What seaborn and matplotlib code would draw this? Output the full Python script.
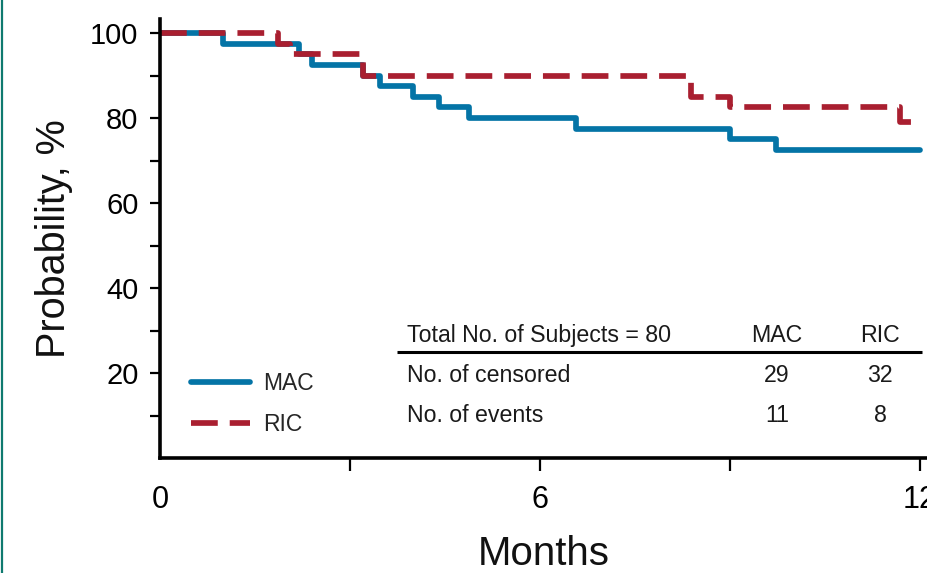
import matplotlib
matplotlib.use("Agg")
import matplotlib.pyplot as plt
from matplotlib.lines import Line2D
import numpy as np
import pandas as pd
import seaborn as sns

# Kaplan-Meier step estimates (months, survival %)
mac_time = [0.0, 1.0, 2.2, 2.4, 3.2, 3.47, 4.0, 4.4, 4.88, 6.57, 9.0, 9.72, 12.0]
mac_surv = [100, 97.5, 95.0, 92.5, 90.0, 87.5, 85.0, 82.5, 80.0, 77.5, 75.0, 72.5, 72.5]
ric_time = [0.0, 1.87, 2.05, 3.2, 8.38, 9.0, 11.68, 12.0]
ric_surv = [100, 97.5, 95.0, 90.0, 85.0, 82.5, 79.0, 79.0]

arms = ["MAC", "RIC"]
colors = {"MAC": "#0474a6", "RIC": "#a91f30"}

# summary table
table_header = "Total No. of Subjects = 80"
row_labels = ["No. of censored", "No. of events"]
censored = {"MAC": 29, "RIC": 32}
events = {"MAC": 11, "RIC": 8}

x_ticks = [0, 3, 6, 9, 12]
x_ticklabels = ["0", "", "6", "", "12"]
y_ticks = [10, 20, 30, 40, 50, 60, 70, 80, 90, 100]
y_ticklabels = ["", "20", "", "40", "", "60", "", "80", "", "100"]

df = pd.concat([
    pd.DataFrame({"time": mac_time, "surv": mac_surv, "arm": "MAC"}),
    pd.DataFrame({"time": ric_time, "surv": ric_surv, "arm": "RIC"}),
], ignore_index=True)

sns.set_theme(style="white")
plt.rcParams["font.family"] = ["Liberation Sans", "DejaVu Sans"]

fig = plt.figure(figsize=(9.27, 5.73), dpi=100)
ax = fig.add_axes([160 / 927, 115 / 573, 767 / 927, 439 / 573])

lw = 4.1
dash = (4.7, 2.1)
sns.lineplot(data=df, x="time", y="surv", hue="arm", style="arm",
             hue_order=arms, style_order=arms, palette=colors,
             dashes={"MAC": "", "RIC": dash},
             drawstyle="steps-post", estimator=None, sort=False,
             linewidth=lw, ax=ax, legend=False)

ax.set_xlim(0, 12.11)
ax.set_ylim(0, 103.3)

for side in ["top", "right"]:
    ax.spines[side].set_visible(False)
for side in ["left", "bottom"]:
    ax.spines[side].set_linewidth(2.6)
    ax.spines[side].set_color("black")

ax.set_xticks(x_ticks, x_ticklabels)
ax.set_yticks(y_ticks, y_ticklabels)
ax.tick_params(axis="y", direction="out", length=7.5, width=1.6, pad=8,
               labelsize=21, colors="black", left=True)
ax.tick_params(axis="x", direction="out", length=9, width=1.6, pad=10.5,
               labelsize=22, colors="black", bottom=True)
ax.xaxis.get_major_ticks()[0].tick1line.set_visible(False)

ax.set_xlabel("Months", fontsize=29, labelpad=14.5, color="#111111")
ax.set_ylabel("Probability, %", fontsize=28.5, labelpad=12, color="#111111")

# legend
handles = [Line2D([0], [0], color=colors["MAC"], lw=lw),
           Line2D([0], [0], color=colors["RIC"], lw=lw, dashes=dash)]
ax.legend(handles, arms, loc="upper left", bbox_to_anchor=(0.04, 0.195),
          frameon=False, fontsize=16.5, handlelength=2.6, handletextpad=0.57,
          labelspacing=0.76, borderaxespad=0, borderpad=0)

# summary table
txt = dict(fontsize=16.7, color="#1a1a1a", va="center")
col_x = {"MAC": 9.74, "RIC": 11.37}
ax.text(3.9, 28.9, table_header, ha="left", **txt)
for arm in arms:
    ax.text(col_x[arm], 28.9, arm, ha="center", **txt)
ax.plot([3.74, 12.03], [24.9, 24.9], color="black", lw=2.2,
        solid_capstyle="butt", clip_on=False)
row_y = [19.5, 9.9]
for label, y, values in zip(row_labels, row_y, [censored, events]):
    ax.text(3.9, y, label, ha="left", **txt)
    for arm in arms:
        ax.text(col_x[arm], y, str(values[arm]), ha="center", **txt)

# thin page border on the left
fig.add_artist(Line2D([2 / 927, 2 / 927], [0, 1], transform=fig.transFigure,
                      color="#0f7a6f", lw=1.6))

fig.savefig("out.png", dpi=100)
